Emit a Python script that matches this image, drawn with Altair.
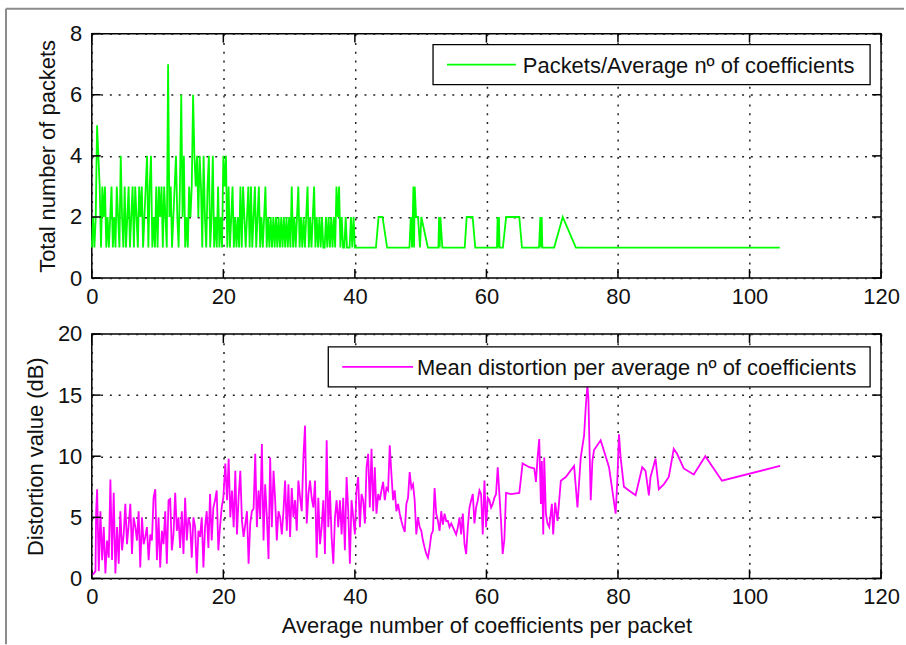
import altair as alt
import pandas as pd

# ---------------- data ----------------
# Upper panel: number of packets for each average number of coefficients
TOP_X = [
    0.0, 0.2, 0.4, 0.6, 0.8, 1.0, 1.2, 1.4, 1.6, 1.8,
    2.0, 2.2, 2.4, 2.6, 2.8, 3.0, 3.2, 3.4, 3.6, 3.8,
    4.0, 4.2, 4.4, 4.6, 4.8, 5.0, 5.2, 5.4, 5.6, 5.8,
    6.0, 6.2, 6.4, 6.6, 6.8, 7.0, 7.2, 7.4, 7.6, 7.8,
    8.0, 8.2, 8.4, 8.6, 8.8, 9.0, 9.2, 9.4, 9.6, 9.8,
    10.0, 10.2, 10.4, 10.6, 10.8, 11.0, 11.2, 11.4, 11.6, 11.8,
    12.0, 12.2, 12.4, 12.6, 12.8, 13.0, 13.2, 13.4, 13.6, 13.8,
    14.0, 14.2, 14.4, 14.6, 14.8, 15.0, 15.2, 15.4, 15.6, 15.8,
    16.0, 16.2, 16.4, 16.6, 16.8, 17.0, 17.2, 17.4, 17.6, 17.8,
    18.0, 18.2, 18.4, 18.6, 18.8, 19.0, 19.2, 19.4, 19.6, 19.8,
    20.0, 20.2, 20.4, 20.6, 20.8, 21.0, 21.2, 21.4, 21.6, 21.8,
    22.0, 22.2, 22.4, 22.6, 22.8, 23.0, 23.2, 23.4, 23.6, 23.8,
    24.0, 24.2, 24.4, 24.6, 24.8, 25.0, 25.2, 25.4, 25.6, 25.8,
    26.0, 26.2, 26.4, 26.6, 26.8, 27.0, 27.2, 27.4, 27.6, 27.8,
    28.0, 28.2, 28.4, 28.6, 28.8, 29.0, 29.2, 29.4, 29.6, 29.8,
    30.0, 30.2, 30.4, 30.6, 30.8, 31.0, 31.2, 31.4, 31.6, 31.8,
    32.0, 32.2, 32.4, 32.6, 32.8, 33.0, 33.2, 33.4, 33.6, 33.8,
    34.0, 34.2, 34.4, 34.6, 34.8, 35.0, 35.2, 35.4, 35.6, 35.8,
    36.0, 36.2, 36.4, 36.6, 36.8, 37.0, 37.2, 37.4, 37.6, 37.8,
    38.0, 38.2, 38.4, 38.6, 38.8, 39.0, 39.2, 39.4, 39.6, 39.8,
    40.0, 43.2, 43.6, 44.2, 44.9, 48.3, 48.5, 48.7, 48.9, 49.0,
    49.1, 49.3, 49.6, 49.9, 50.1, 51.1, 52.7, 52.8, 52.9, 53.0,
    53.3, 56.7, 57.0, 57.9, 58.3, 61.6, 61.7, 61.8, 61.9, 62.0,
    62.5, 63.0, 65.0, 65.4, 68.0, 68.2, 68.3, 68.4, 68.5, 70.3,
    71.6, 73.6, 104.6,
]
TOP_N = [
    1, 2, 1, 2, 5, 4, 3, 1, 3, 2,
    3, 1, 2, 1, 2, 3, 1, 2, 1, 3,
    2, 1, 4, 2, 1, 3, 1, 2, 3, 1,
    2, 3, 1, 3, 2, 1, 3, 2, 3, 1,
    2, 3, 4, 1, 3, 4, 1, 2, 1, 3,
    1, 3, 2, 3, 1, 3, 2, 1, 7, 2,
    3, 1, 2, 3, 4, 2, 1, 3, 6, 2,
    4, 1, 2, 1, 3, 2, 3, 6, 4, 3,
    4, 2, 4, 3, 1, 4, 2, 1, 3, 4,
    1, 2, 4, 1, 2, 1, 3, 1, 2, 1,
    4, 3, 4, 1, 3, 1, 2, 3, 1, 2,
    1, 2, 1, 3, 1, 3, 2, 1, 2, 3,
    1, 3, 1, 2, 3, 1, 2, 3, 1, 2,
    1, 2, 3, 1, 2, 1, 2, 1, 2, 1,
    2, 1, 2, 1, 2, 1, 2, 1, 2, 1,
    2, 1, 3, 1, 2, 1, 2, 3, 1, 2,
    1, 2, 1, 2, 3, 1, 2, 1, 2, 3,
    1, 2, 1, 2, 1, 2, 1, 1, 2, 1,
    2, 1, 2, 1, 2, 1, 3, 2, 3, 1,
    2, 1, 1, 2, 1, 1, 1, 2, 1, 2,
    1, 1, 2, 2, 1, 1, 2, 1, 3, 1,
    3, 2, 2, 1, 2, 1, 1, 2, 1, 2,
    1, 1, 2, 2, 1, 1, 2, 1, 2, 1,
    1, 2, 2, 1, 1, 2, 1, 2, 1, 1,
    2, 1, 1,
]

# Lower panel: mean distortion (dB) for each average number of coefficients
BOT_X = [
    0.05, 0.30, 0.56, 0.66, 0.81, 1.06, 1.31, 1.57, 1.82, 2.07,
    2.32, 2.58, 2.83, 3.08, 3.33, 3.59, 3.84, 4.09, 4.34, 4.60,
    4.85, 5.10, 5.35, 5.61, 5.86, 6.11, 6.36, 6.62, 6.87, 7.12,
    7.37, 7.63, 7.88, 8.13, 8.38, 8.64, 8.89, 9.14, 9.39, 9.65,
    9.90, 10.15, 10.40, 10.66, 10.91, 11.16, 11.41, 11.67, 11.92, 12.17,
    12.42, 12.68, 12.93, 13.18, 13.43, 13.69, 13.94, 14.19, 14.44, 14.70,
    14.95, 15.20, 15.45, 15.71, 15.96, 16.21, 16.46, 16.72, 16.97, 17.22,
    17.47, 17.73, 17.98, 18.23, 18.48, 18.74, 18.99, 19.24, 19.49, 19.75,
    20.00, 20.30, 20.56, 20.81, 21.06, 21.31, 21.57, 21.82, 22.07, 22.32,
    22.58, 22.83, 23.08, 23.33, 23.59, 23.84, 24.09, 24.34, 24.60, 24.85,
    25.10, 25.35, 25.61, 25.86, 26.11, 26.36, 26.62, 26.87, 27.12, 27.37,
    27.63, 27.88, 28.13, 28.38, 28.64, 28.89, 29.14, 29.39, 29.65, 29.90,
    30.15, 30.40, 30.66, 30.91, 31.16, 31.41, 31.67, 31.92, 32.17, 32.42,
    32.68, 32.93, 33.18, 33.43, 33.69, 33.94, 34.19, 34.44, 34.70, 34.95,
    35.20, 35.45, 35.71, 35.96, 36.21, 36.46, 36.72, 36.97, 37.22, 37.47,
    37.73, 37.98, 38.23, 38.48, 38.74, 38.99, 39.24, 39.49, 39.75, 40.00,
    40.25, 40.50, 40.76, 41.01, 41.26, 41.52, 41.77, 42.02, 42.27, 42.53,
    42.78, 43.03, 43.28, 43.54, 43.79, 44.04, 44.29, 44.55, 44.80, 45.05,
    45.30, 45.56, 45.81, 46.06, 46.31, 46.57, 46.82, 47.07, 47.32, 47.58,
    47.83, 48.08, 48.33, 48.59, 48.84, 49.09, 49.34, 49.60, 49.85, 50.10,
    50.35, 50.61, 50.86, 51.11, 51.36, 51.62, 51.87, 52.12, 52.37, 52.63,
    52.88, 53.13, 53.38, 53.64, 53.89, 54.14, 54.39, 54.65, 54.90, 55.15,
    55.40, 55.66, 55.91, 56.16, 56.41, 56.67, 56.92, 57.17, 57.42, 57.68,
    57.93, 58.18, 58.43, 58.69, 58.94, 59.19, 59.44, 59.70, 59.95, 60.20,
    60.45, 60.71, 60.96, 61.21, 61.46, 61.72, 62.22, 62.47, 62.73, 62.98,
    63.74, 65.00, 65.50, 66.52, 67.27, 67.53, 67.78, 68.03, 68.28, 68.43,
    68.64, 68.79, 69.04, 69.29, 69.55, 69.95, 70.15, 70.45, 70.81, 71.31,
    72.07, 73.33, 73.84, 74.34, 74.85, 75.10, 75.35, 75.50, 75.86, 76.11,
    76.36, 77.37, 78.64, 79.65, 79.90, 80.15, 80.40, 80.91, 81.67, 82.68,
    83.69, 84.19, 84.70, 84.95, 85.71, 86.21, 86.97, 87.73, 88.48, 88.99,
    90.00, 91.52, 93.28, 95.81, 104.65,
]
BOT_V = [
    0.3, 0.4, 0.6, 5.5, 7.3, 0.6, 5.5, 1.5, 4.2, 0.4,
    3.1, 1.7, 8.1, 1.5, 7.0, 0.4, 4.2, 1.2, 5.5, 2.3,
    3.6, 6.1, 2.8, 4.4, 6.1, 2.0, 5.0, 4.2, 3.1, 5.5,
    0.9, 5.0, 2.8, 3.4, 4.2, 1.5, 3.6, 3.1, 6.6, 7.3,
    1.5, 5.0, 0.9, 3.9, 2.8, 5.5, 1.2, 6.4, 6.5, 2.3,
    3.6, 7.0, 3.9, 5.0, 2.5, 5.5, 2.0, 6.6, 3.1, 5.0,
    4.4, 1.7, 5.0, 4.2, 0.4, 3.9, 3.4, 5.0, 0.9, 4.2,
    5.5, 2.5, 6.9, 3.1, 5.8, 6.4, 7.2, 2.3, 4.2, 5.8,
    6.6, 9.4, 6.4, 9.8, 5.0, 7.2, 4.2, 8.8, 3.6, 6.6,
    8.8, 4.7, 3.4, 4.4, 5.5, 1.2, 4.5, 5.5, 5.7, 10.2,
    4.2, 7.2, 5.0, 11.0, 3.1, 7.7, 5.0, 1.6, 9.9, 4.2,
    8.8, 6.4, 3.1, 5.5, 5.0, 3.6, 5.5, 8.0, 3.9, 7.7,
    3.4, 7.4, 5.0, 6.4, 3.9, 8.0, 6.6, 5.5, 9.9, 12.5,
    4.5, 6.9, 8.0, 6.6, 5.8, 8.0, 1.7, 6.6, 2.8, 4.2,
    6.4, 2.0, 11.3, 4.2, 7.2, 3.4, 1.2, 5.0, 6.4, 4.2,
    6.4, 3.6, 6.6, 2.3, 8.3, 5.5, 1.2, 6.4, 5.0, 3.6,
    7.2, 8.3, 4.2, 6.9, 6.4, 4.5, 9.1, 10.2, 5.8, 10.6,
    5.5, 9.1, 5.3, 6.9, 6.4, 7.2, 7.9, 6.4, 7.4, 7.2,
    10.9, 8.5, 6.4, 7.2, 5.5, 6.1, 5.3, 4.7, 4.2, 3.8,
    6.1, 6.6, 8.7, 7.4, 7.7, 6.4, 3.6, 5.0, 4.2, 3.9,
    3.1, 2.5, 2.0, 1.7, 2.5, 3.6, 3.9, 7.4, 5.3, 4.7,
    3.9, 5.5, 4.4, 5.3, 4.7, 4.7, 4.2, 4.5, 4.2, 3.9,
    3.6, 4.2, 5.0, 3.6, 5.3, 2.8, 2.0, 4.2, 5.8, 6.4,
    6.9, 4.5, 5.8, 6.4, 7.2, 6.9, 3.6, 8.0, 4.2, 6.6,
    6.4, 5.8, 6.1, 6.6, 6.9, 9.1, 4.7, 2.0, 3.2, 7.0,
    6.9, 7.0, 9.4, 9.1, 9.0, 7.9, 9.9, 11.4, 6.1, 9.6,
    3.6, 9.9, 5.3, 4.5, 4.2, 6.1, 3.6, 6.2, 4.7, 8.0,
    8.3, 9.2, 5.8, 9.9, 11.7, 14.0, 15.8, 14.8, 6.4, 9.6,
    10.5, 11.3, 9.1, 5.3, 8.0, 11.8, 9.9, 7.5, 7.2, 6.8,
    9.1, 8.8, 6.8, 8.3, 9.8, 7.3, 7.7, 8.3, 10.6, 10.2,
    9.0, 8.5, 10.0, 8.0, 9.2,
]

X_TICKS = [0, 20, 40, 60, 80, 100, 120]
TOP_Y_TICKS = [0, 2, 4, 6, 8]
BOT_Y_TICKS = [0, 5, 10, 15, 20]

TOP_LABEL = "Packets/Average nº of coefficients"
BOT_LABEL = "Mean distortion per average nº of coefficients"
X_TITLE = "Average number of coefficients per packet"
TOP_Y_TITLE = "Total number of packets"
BOT_Y_TITLE = "Distortion value (dB)"

# ---------------- styling ----------------
W, H = 791, 245
FONT = "Liberation Sans"
FS = 22
TICK_LEN = 9
LINE_W = 1.8
GREEN = "#00ff00"
MAGENTA = "#ff00ff"


def panel(df, field, color, y_domain, y_ticks, y_title, label, box, x_title):
    x_scale = alt.Scale(domain=[0, 120], nice=False, zero=False)
    y_scale = alt.Scale(domain=y_domain, nice=False, zero=False)
    x_axis = alt.Axis(values=X_TICKS, grid=True, ticks=False, tickSize=0,
                      domain=False, labelFlush=False, labelPadding=8, titlePadding=8)
    y_axis = alt.Axis(values=y_ticks, grid=True, ticks=False, tickSize=0,
                      domain=False, labelFlush=False, labelPadding=10, titlePadding=10)
    if x_title:
        xenc = lambda f: alt.X(f, scale=x_scale, axis=x_axis, title=X_TITLE)
    else:
        xenc = lambda f: alt.X(f, scale=x_scale, axis=x_axis, title=None)
    yenc = lambda f: alt.Y(f, scale=y_scale, axis=y_axis, title=y_title)

    line = alt.Chart(df).mark_line(color=color, strokeWidth=LINE_W).encode(
        x=xenc("x:Q"), y=yenc(f"{field}:Q")
    )

    xt = pd.DataFrame({"t": X_TICKS})
    yt = pd.DataFrame({"t": y_ticks})
    tick_style = dict(color="black", strokeWidth=1.5)
    ticks_bottom = alt.Chart(xt).mark_rule(**tick_style).encode(
        x=xenc("t:Q"), y=alt.value(H - TICK_LEN), y2=alt.value(H))
    ticks_top = alt.Chart(xt).mark_rule(**tick_style).encode(
        x=xenc("t:Q"), y=alt.value(0), y2=alt.value(TICK_LEN))
    ticks_left = alt.Chart(yt).mark_rule(**tick_style).encode(
        y=yenc("t:Q"), x=alt.value(0), x2=alt.value(TICK_LEN))
    ticks_right = alt.Chart(yt).mark_rule(**tick_style).encode(
        y=yenc("t:Q"), x=alt.value(W - TICK_LEN), x2=alt.value(W))

    # legend drawn as a boxed entry in the upper right corner
    bx0, bx1, by0, by1, lx0, lx1, tx0 = box
    ly = (by0 + by1) / 2
    lab = pd.DataFrame({"label": [label]})
    leg_box = alt.Chart(lab).mark_rect(fill="white", stroke="black", strokeWidth=1.3).encode(
        x=alt.value(bx0), x2=alt.value(bx1), y=alt.value(by0), y2=alt.value(by1))
    leg_line = alt.Chart(lab).mark_rule(color=color, strokeWidth=LINE_W).encode(
        x=alt.value(lx0), x2=alt.value(lx1), y=alt.value(ly))
    leg_text = alt.Chart(lab).mark_text(
        align="left", baseline="middle", font=FONT, fontSize=FS, color="#111111"
    ).encode(x=alt.value(tx0), y=alt.value(ly + 1), text="label:N")

    return [line, ticks_bottom, ticks_top, ticks_left, ticks_right,
            leg_box, leg_line, leg_text]


top_df = pd.DataFrame({"x": TOP_X, "n": TOP_N})
bot_df = pd.DataFrame({"x": BOT_X, "v": BOT_V})

top_layers = panel(top_df, "n", GREEN, [0, 8], TOP_Y_TICKS, TOP_Y_TITLE, TOP_LABEL,
                   (342, 780, 11, 51, 356, 425, 432), False)
bot_layers = panel(bot_df, "v", MAGENTA, [0, 20], BOT_Y_TICKS, BOT_Y_TITLE, BOT_LABEL,
                   (237, 780, 13, 53, 251, 322, 326), True)

# grey window frame along the top and left edges of the figure
frame_df = pd.DataFrame({"k": [0]})
frame_style = dict(color="#8c8c8c", strokeWidth=2)
frame_top = alt.Chart(frame_df).mark_rule(**frame_style).encode(
    x=alt.value(-86), x2=alt.value(814), y=alt.value(-25))
frame_left = alt.Chart(frame_df).mark_rule(**frame_style).encode(
    x=alt.value(-86), y=alt.value(-25), y2=alt.value(612))

top = alt.layer(*top_layers, frame_top, frame_left).properties(width=W, height=H)
bottom = alt.layer(*bot_layers).properties(width=W, height=H)

chart = (
    alt.vconcat(top, bottom, spacing=56, bounds="flush")
    .properties(padding={"left": 4, "top": 6, "right": 0, "bottom": 0}, background="white")
    .configure_view(stroke="black", strokeWidth=1.5)
    .configure_axis(
        labelFont=FONT, labelFontSize=FS, labelColor="#111111",
        titleFont=FONT, titleFontSize=FS, titleFontWeight="normal", titleColor="#111111",
        gridColor="#222222", gridWidth=1.5, gridDash=[2, 6.8], gridOpacity=1,
    )
)

chart.save("out.html", embed_options={"renderer": "svg", "actions": False})
